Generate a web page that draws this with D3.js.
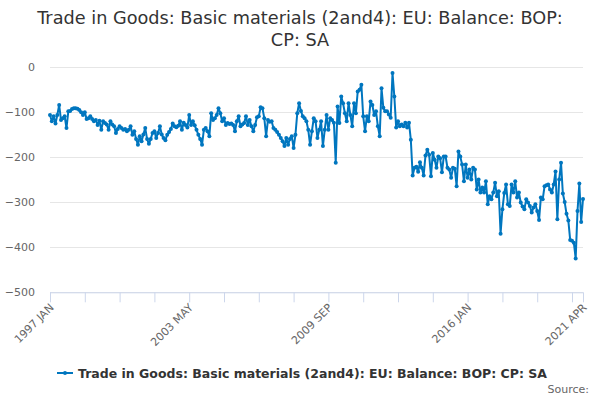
<!DOCTYPE html>
<html>
<head>
<meta charset="utf-8">
<script src="https://cdn.jsdelivr.net/npm/d3@7"></script>
<style>
  html, body { margin: 0; padding: 0; background: #fff; }
  svg { display: block; font-family: "DejaVu Sans", Verdana, sans-serif; }
</style>
</head>
<body>
<svg id="chart" width="600" height="400"></svg>
<script>
const titleLines = ["Trade in Goods: Basic materials (2and4): EU: Balance: BOP:", "CP: SA"];
const seriesName = "Trade in Goods: Basic materials (2and4): EU: Balance: BOP: CP: SA";
const startYear = 1997;
const monthNames = ["JAN","FEB","MAR","APR","MAY","JUN","JUL","AUG","SEP","OCT","NOV","DEC"];
const values = [
-107,-121,-110,-126,-107,-85,-118,-114,-110,-136,-99,-98,
-94,-92,-92,-93,-96,-101,-107,-101,-116,-114,-110,-116,
-121,-118,-129,-120,-140,-121,-125,-128,-140,-121,-128,-132,
-147,-138,-132,-136,-140,-138,-143,-140,-132,-151,-143,-160,
-173,-154,-165,-150,-136,-160,-171,-160,-147,-143,-158,-147,
-132,-150,-158,-163,-151,-145,-138,-126,-132,-134,-131,-121,
-140,-124,-129,-135,-107,-129,-121,-130,-140,-151,-160,-173,
-140,-136,-143,-154,-103,-118,-114,-107,-92,-103,-121,-114,
-129,-125,-127,-126,-129,-143,-121,-110,-132,-128,-125,-110,
-129,-118,-132,-143,-129,-112,-110,-90,-92,-114,-154,-118,
-122,-121,-136,-140,-145,-151,-158,-165,-176,-158,-173,-160,
-154,-180,-151,-103,-81,-98,-110,-114,-121,-140,-173,-143,
-114,-121,-158,-140,-121,-176,-140,-107,-140,-114,-118,-124,
-213,-88,-125,-66,-81,-103,-121,-81,-107,-132,-81,-103,
-55,-51,-40,-110,-143,-110,-121,-77,-85,-107,-99,-132,
-154,-48,-91,-99,-99,-106,-113,-14,-66,-135,-121,-132,
-128,-132,-124,-135,-124,-162,-241,-224,-222,-233,-212,-224,
-241,-197,-184,-195,-243,-191,-206,-224,-199,-203,-234,-199,
-199,-224,-228,-246,-224,-226,-265,-188,-199,-217,-254,-217,
-246,-228,-250,-224,-228,-272,-250,-279,-268,-279,-254,-305,
-287,-294,-279,-257,-287,-276,-370,-316,-280,-261,-305,-309,
-261,-279,-254,-290,-279,-301,-310,-316,-294,-301,-309,-323,
-312,-305,-320,-340,-290,-294,-265,-263,-261,-272,-279,-261,
-232,-338,-250,-213,-281,-300,-326,-341,-384,-386,-390,-425,
-320,-259,-344,-293
];
const categories = values.map((_, i) => (startYear + Math.floor(i / 12)) + " " + monthNames[i % 12]);
const yTicks = [0, -100, -200, -300, -400, -500];
const tickStep = 19;
const labelledCategories = ["1997 JAN", "2003 MAY", "2009 SEP", "2016 JAN", "2021 APR"];
const sourceText = "Source:";

const color = "#0076bf";
const svg = d3.select("#chart");
const plotLeft = 50, plotRight = 583, plotTop = 66.7, plotBottom = 292.3;

const x = d3.scalePoint().domain(categories).range([plotLeft, plotRight]);
const y = d3.scaleLinear().domain([-500, 0]).range([plotBottom, plotTop]);

// title
svg.append("g").selectAll("text").data(titleLines).join("text")
  .attr("x", 300).attr("y", (d, i) => 24 + i * 22)
  .attr("text-anchor", "middle").attr("font-size", 17.7).attr("fill", "#333")
  .text(d => d);

// gridlines
svg.append("g").selectAll("line").data(yTicks).join("line")
  .attr("x1", plotLeft).attr("x2", plotRight)
  .attr("y1", d => Math.round(y(d)) + 0.5).attr("y2", d => Math.round(y(d)) + 0.5)
  .attr("stroke", "#e6e6e6").attr("stroke-width", 1);

// y labels
const yAxis = d3.axisLeft(y).tickValues(yTicks).tickSize(0).tickPadding(0).tickFormat(d3.format("d"));
const gy = svg.append("g").attr("transform", `translate(35,0)`).call(yAxis);
gy.select(".domain").remove();
gy.selectAll("text").attr("font-size", 11).attr("fill", "#666").attr("font-family", "DejaVu Sans, sans-serif");

// x axis
const tickCats = categories.filter((c, i) => i % tickStep === 0 || i === categories.length - 1);
const xAxis = d3.axisBottom(x).tickValues(tickCats).tickSize(10)
  .tickFormat(d => labelledCategories.includes(d) ? d : "");
const gx = svg.append("g").attr("transform", `translate(0,${plotBottom})`).call(xAxis);
gx.select(".domain").attr("stroke", "#ccd6eb").attr("d", `M${plotLeft},0.5H${plotRight}`);
gx.selectAll(".tick line").attr("stroke", "#ccd6eb");
gx.selectAll(".tick text")
  .attr("font-size", 11).attr("fill", "#666").attr("font-family", "DejaVu Sans, sans-serif")
  .attr("text-anchor", "end").attr("dy", null).attr("y", 0)
  .attr("transform", "translate(4,16) rotate(-45)");

// line
const data = values.map((v, i) => ({c: categories[i], v}));
svg.append("path").datum(data)
  .attr("fill", "none").attr("stroke", color).attr("stroke-width", 2)
  .attr("stroke-linejoin", "round")
  .attr("d", d3.line().x(d => x(d.c)).y(d => y(d.v)));
svg.append("g").selectAll("circle").data(data).join("circle")
  .attr("cx", d => x(d.c)).attr("cy", d => y(d.v)).attr("r", 2).attr("fill", color);

// legend
const lg = svg.append("g").attr("transform", "translate(0,373)");
lg.append("line").attr("x1", 57).attr("x2", 73).attr("y1", 0).attr("y2", 0)
  .attr("stroke", color).attr("stroke-width", 2);
lg.append("circle").attr("cx", 65).attr("cy", 0).attr("r", 2).attr("fill", color);
lg.append("text").attr("x", 78).attr("y", 4.5).attr("font-size", 12.5).attr("font-weight", "bold")
  .attr("fill", "#333").text(seriesName);

svg.append("text").attr("x", 589).attr("y", 393).attr("text-anchor", "end")
  .attr("font-size", 11).attr("fill", "#666").text(sourceText);
</script>
</body>
</html>
